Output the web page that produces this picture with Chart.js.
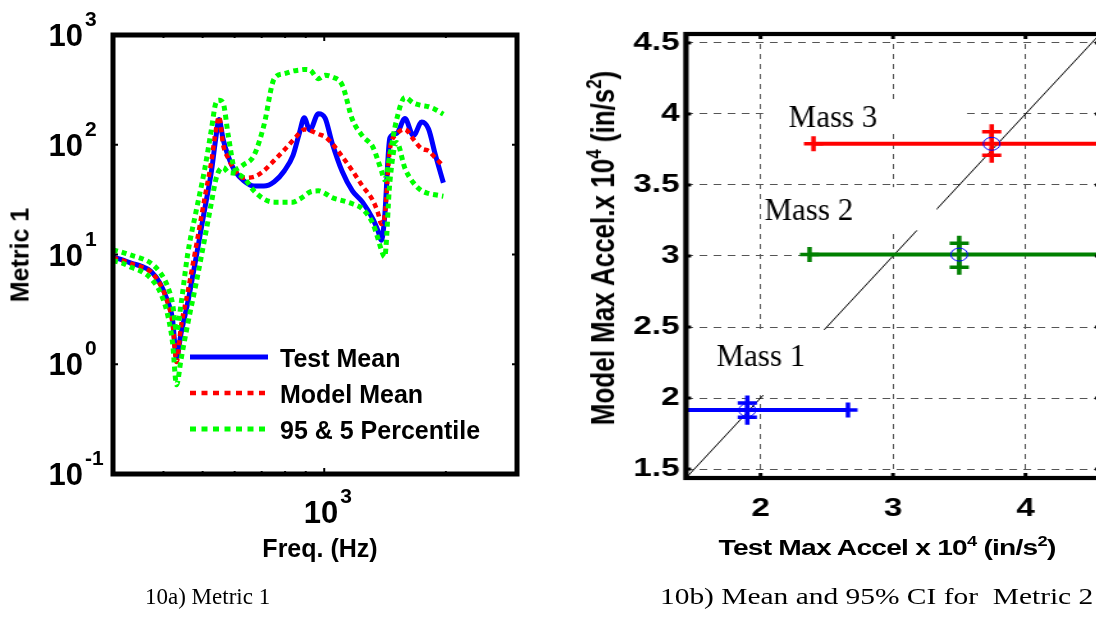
<!DOCTYPE html>
<html>
<head>
<meta charset="utf-8">
<script src="https://cdn.jsdelivr.net/npm/chart.js@4.4.1/dist/chart.umd.min.js"></script>
<style>
  html, body { margin: 0; padding: 0; background: #fff; }
  body { width: 1096px; height: 634px; overflow: hidden; position: relative; font-family: "Liberation Sans", Arial, sans-serif; }
  canvas { position: absolute; top: 0; left: 0; }
  /* the right panel of the figure is stretched sideways, like the original */
  #rightWrap { position: absolute; left: 560px; top: 0; width: 430px; height: 634px; transform: scaleX(1.28); transform-origin: 0 0; }
  .lbl { position: absolute; white-space: nowrap; transform: translate(-50%, -50%); font-weight: bold; color: #000; }
  .rot { transform: translate(-50%, -50%) rotate(-90deg); }
  sup { font-size: 0.65em; line-height: 0; vertical-align: 0.62em; }
  .cap { position: absolute; font-family: "Liberation Serif", "Times New Roman", serif; font-size: 23px; white-space: pre; color: #000; }
</style>
</head>
<body>
<canvas id="leftCanvas" width="560" height="634"></canvas>
<div class="lbl rot" style="left:20px; top:255px; font-size:25px;">Metric 1</div>
<div class="lbl" style="left:320px; top:548px; font-size:25px;">Freq. (Hz)</div>
<div class="cap" style="left:145px; top:584px;">10a) Metric 1</div>

<div id="rightWrap">
  <canvas id="rightCanvas" width="430" height="634"></canvas>
  <div class="lbl rot" style="left:33.6px; top:248px; font-size:26px;">Model Max Accel.x 10<sup>4</sup> (in/s<sup>2</sup>)</div>
  <div class="lbl" style="left:255.5px; top:548px; font-size:22px; letter-spacing:-0.6px;">Test Max Accel x 10<sup>4</sup> (in/s<sup>2</sup>)</div>
  <div class="cap" style="left:78.1px; top:584px;">10b) Mean and 95% CI for  Metric 2</div>
</div>

<script>
// ---- 10a: Metric 1 vs frequency (log-log) ----
const freqHz = [300, 315, 334, 353, 373, 393, 408, 421, 431, 442, 459, 482, 506, 526, 539, 549, 562, 579, 602, 632,
  670, 709, 752, 797, 837, 869, 892, 921, 967, 1005, 1045, 1108, 1174, 1244, 1320, 1358, 1385, 1411, 1453, 1511,
  1584, 1662, 1743, 1812, 1882, 1972];
const metricTest = [9.5, 9.0, 8.3, 7.8, 7.0, 5.4, 3.9, 2.6, 1.15, 1.9, 3.6, 9.5, 26, 58, 115, 170, 112, 78, 57, 47,
  42, 42, 46, 58, 80, 130, 176, 136, 192, 175, 105, 57, 38, 30, 21, 16.5, 13.5, 22, 115, 127,
  173, 121, 161, 139, 82, 45];
const metricModel = [9.3, 8.9, 8.2, 7.7, 6.9, 5.3, 3.8, 2.4, 1.05, 2.2, 4.5, 12, 33, 72, 135, 180, 100, 75, 58, 50,
  51, 58, 72, 90, 110, 128, 138, 135, 125, 118, 103, 78, 58, 42, 31, 24, 19, 22, 90, 125,
  138, 112, 92, 88, 76, 64];
const metricP95 = [11, 10.5, 9.8, 9.2, 8.3, 6.8, 5.3, 3.6, 2.0, 3.5, 10, 25, 60, 140, 240, 255, 240, 120, 60, 66,
  80, 150, 400, 445, 470, 480, 485, 480, 400, 430, 415, 350, 170, 120, 95, 72, 58, 48, 80, 170,
  270, 240, 228, 222, 210, 190];
const metricP5 = [8.8, 8.4, 7.6, 7.0, 6.0, 4.5, 3.0, 1.6, 0.65, 1.1, 2.3, 5.5, 14, 30, 48, 58, 62, 56, 55, 50,
  38, 32, 30, 30, 30, 32, 34, 37, 38, 36, 33, 31, 29, 26, 19, 14, 11, 9.5, 45, 105,
  61, 45, 38, 36, 35, 34];
const yTickVals = [0.1, 1, 10, 100, 1000];
const yTickExp = ['-1', '0', '1', '2', '3'];
const xTickVals = [1000];
const xTickExp = ['3'];
const xMinorTicks = [400, 500, 600, 700, 800, 900, 2000];

// ---- 10b: model vs test max accel, mean and 95% CI ----
const massNames = ['Mass 1', 'Mass 2', 'Mass 3'];
const massColors = ['#0000ff', '#008000', '#ff0000'];
const testMean = [1.90, 3.50, 3.745];
const testLo = [1.14, 2.37, 2.40];
const testHi = [2.66, 4.63, 5.06];
const modelMean = [1.915, 3.01, 3.79];
const modelLo = [1.865, 2.92, 3.71];
const modelHi = [1.965, 3.09, 3.875];
const diagLine = [1, 5];
const accelTicksX = [2, 3, 4];
const accelTicksY = [1.5, 2, 2.5, 3, 3.5, 4, 4.5];

// text annotations (data coords) and the white boxes behind them
const massLabelX = [1.667, 2.03, 2.212];
const massLabelY = [2.225, 3.254, 3.908];
const massBoxes = [[1.6, 2.52, 2.02, 2.48], [2.02, 3.33, 3.18, 3.485], [2.02, 3.52, 3.88, 4.1]];
const STRETCH = 1.28;

const toPoints = (xs, ys) => xs.map((x, i) => ({ x, y: ys[i] }));

function seg(ctx, x1, y1, x2, y2) {
  ctx.beginPath(); ctx.moveTo(x1, y1); ctx.lineTo(x2, y2); ctx.stroke();
}

const leftDecor = {
  id: 'leftDecor',
  afterDraw(chart) {
    const { ctx, chartArea: a, scales: { x, y } } = chart;
    ctx.save();
    ctx.strokeStyle = '#000';
    ctx.lineWidth = 2;
    yTickVals.forEach(v => {
      const py = y.getPixelForValue(v);
      seg(ctx, a.left, py, a.left + 5, py);
      seg(ctx, a.right, py, a.right - 5, py);
    });
    xMinorTicks.forEach(v => {
      const px = x.getPixelForValue(v);
      seg(ctx, px, a.bottom, px, a.bottom - 3);
      seg(ctx, px, a.top, px, a.top + 3);
    });
    xTickVals.forEach(v => {
      const px = x.getPixelForValue(v);
      seg(ctx, px, a.bottom, px, a.bottom - 6);
      seg(ctx, px, a.top, px, a.top + 6);
    });
    ctx.lineWidth = 5;
    ctx.strokeRect(a.left, a.top, a.right - a.left, a.bottom - a.top);

    // tick labels 10^n
    ctx.fillStyle = '#000';
    ctx.textBaseline = 'alphabetic';
    yTickVals.forEach((v, i) => {
      const py = y.getPixelForValue(v);
      ctx.font = 'bold 31px "Liberation Sans", Arial, sans-serif';
      ctx.textAlign = 'right';
      ctx.fillText('10', a.left - 30, py + 11);
      ctx.font = 'bold 21px "Liberation Sans", Arial, sans-serif';
      ctx.textAlign = 'left';
      ctx.fillText(yTickExp[i], a.left - 28, py - 9);
    });
    xTickVals.forEach((v, i) => {
      const px = x.getPixelForValue(v);
      ctx.font = 'bold 31px "Liberation Sans", Arial, sans-serif';
      ctx.textAlign = 'right';
      ctx.fillText('10', px + 14, 523);
      ctx.font = 'bold 21px "Liberation Sans", Arial, sans-serif';
      ctx.textAlign = 'left';
      ctx.fillText(xTickExp[i], px + 16, 503);
    });

    // legend (no frame)
    const items = [3, 2, 0];
    items.forEach((di, k) => {
      const ds = chart.data.datasets[di];
      const ly = 357 + k * 36;
      ctx.save();
      ctx.strokeStyle = ds.borderColor;
      ctx.lineWidth = ds.borderWidth;
      ctx.setLineDash(ds.borderDash ? [6, 5.5] : []);
      seg(ctx, 190, ly, 268, ly);
      ctx.restore();
      ctx.font = 'bold 25px "Liberation Sans", Arial, sans-serif';
      ctx.textAlign = 'left';
      ctx.fillText(ds.label, 280, ly + 10);
    });
    ctx.restore();
  }
};

const dotted = { borderWidth: 5, borderDash: [5, 4], pointRadius: 0, fill: false, cubicInterpolationMode: 'monotone' };

new Chart(document.getElementById('leftCanvas'), {
  type: 'line',
  data: {
    datasets: [
      Object.assign({ label: '95 & 5 Percentile', data: toPoints(freqHz, metricP95), borderColor: '#00ff00' }, dotted),
      Object.assign({ label: '', data: toPoints(freqHz, metricP5), borderColor: '#00ff00' }, dotted),
      Object.assign({ label: 'Model Mean', data: toPoints(freqHz, metricModel), borderColor: '#ff0000' }, dotted, { borderWidth: 4.5 }),
      { label: 'Test Mean', data: toPoints(freqHz, metricTest), borderColor: '#0000ff', borderWidth: 5,
        pointRadius: 0, fill: false, cubicInterpolationMode: 'monotone' }
    ]
  },
  options: {
    responsive: false,
    animation: false,
    layout: { autoPadding: false, padding: { left: 113, top: 35, right: 43, bottom: 160 } },
    plugins: { legend: { display: false }, tooltip: { enabled: false } },
    scales: {
      x: { type: 'logarithmic', min: 300, max: 3000, display: false },
      y: { type: 'logarithmic', min: 0.1, max: 1000, display: false }
    }
  },
  plugins: [leftDecor]
});

// ---- right chart ----
const rightSets = [
  { data: diagLine.map(v => ({ x: v, y: v })), borderColor: '#000', borderWidth: 1, pointRadius: 0, order: 10 }
];
massNames.forEach((name, i) => {
  const c = massColors[i];
  const bar = { borderColor: c, borderWidth: 4, pointStyle: 'cross', pointRadius: 7.5, pointBorderWidth: 3.5,
    pointBorderColor: c, pointHoverRadius: 7.5, order: 5 };
  rightSets.push(Object.assign({ label: name, data: [{ x: testLo[i], y: modelMean[i] }, { x: testHi[i], y: modelMean[i] }] }, bar));
  rightSets.push(Object.assign({ label: name, data: [{ x: testMean[i], y: modelLo[i] }, { x: testMean[i], y: modelHi[i] }] }, bar, { borderWidth: 3.5 }));
  rightSets.push({ label: name, data: [{ x: testMean[i], y: modelMean[i] }], showLine: false, pointStyle: 'circle',
    pointRadius: 6.5, pointBorderWidth: 1, pointBorderColor: '#0000ff', pointBackgroundColor: 'rgba(0,0,0,0)', order: 1 });
});

const rightDecor = {
  id: 'rightDecor',
  afterDatasetDraw(chart, args) {
    if (args.index !== 0) return;
    const { ctx, scales: { x, y } } = chart;
    ctx.save();
    ctx.fillStyle = '#fff';
    massBoxes.forEach(b => {
      const x0 = x.getPixelForValue(b[0]), x1 = x.getPixelForValue(b[1]);
      const y0 = y.getPixelForValue(b[3]), y1 = y.getPixelForValue(b[2]);
      ctx.fillRect(x0, y0, x1 - x0, y1 - y0);
    });
    ctx.fillStyle = '#000';
    ctx.font = '31px "Liberation Serif", "Times New Roman", serif';
    ctx.textAlign = 'left';
    ctx.textBaseline = 'alphabetic';
    massNames.forEach((n, i) => {
      // these labels are not stretched in the original
      ctx.save();
      ctx.translate(x.getPixelForValue(massLabelX[i]), y.getPixelForValue(massLabelY[i]));
      ctx.scale(1 / STRETCH, 1);
      ctx.fillText(n, 0, 0);
      ctx.restore();
    });
    ctx.restore();
  },
  afterDraw(chart) {
    const { ctx, chartArea: a, scales: { x, y } } = chart;
    ctx.save();
    ctx.strokeStyle = '#000';
    ctx.lineWidth = 3;
    accelTicksX.forEach(v => {
      const px = x.getPixelForValue(v);
      seg(ctx, px, a.bottom, px, a.bottom - 5);
      seg(ctx, px, a.top, px, a.top + 5);
    });
    accelTicksY.forEach(v => {
      const py = y.getPixelForValue(v);
      seg(ctx, a.left, py, a.left + 4, py);
      seg(ctx, a.right, py, a.right - 4, py);
    });
    ctx.lineWidth = 4.2;
    ctx.strokeRect(a.left, a.top, a.right - a.left, a.bottom - a.top);
    ctx.restore();
  }
};

const tickFont = { family: '"Liberation Sans", Arial, sans-serif', weight: 'bold', size: 26 };

new Chart(document.getElementById('rightCanvas'), {
  type: 'line',
  data: { datasets: rightSets },
  options: {
    responsive: false,
    animation: false,
    layout: { autoPadding: false, padding: { left: 0, top: 34, right: 8.1, bottom: 0 } },
    plugins: { legend: { display: false }, tooltip: { enabled: false } },
    scales: {
      x: {
        type: 'linear', min: 1.437, max: 4.563,
        afterBuildTicks: s => { s.ticks = accelTicksX.map(v => ({ value: v })); },
        afterFit: s => { s.height = 156; },
        ticks: { font: tickFont, color: '#000', padding: 15, maxRotation: 0, callback: v => String(v) },
        grid: { color: '#555', lineWidth: 1, drawTicks: false },
        border: { display: false, dash: [5, 5] }
      },
      y: {
        type: 'linear', min: 1.437, max: 4.563,
        afterBuildTicks: s => { s.ticks = accelTicksY.map(v => ({ value: v })); },
        afterFit: s => { s.width = 98.4; },
        ticks: { font: tickFont, color: '#000', padding: 5, callback: v => String(v) },
        grid: { color: '#555', lineWidth: 1, drawTicks: false },
        border: { display: false, dash: [6, 5] }
      }
    }
  },
  plugins: [rightDecor]
});
</script>
</body>
</html>
